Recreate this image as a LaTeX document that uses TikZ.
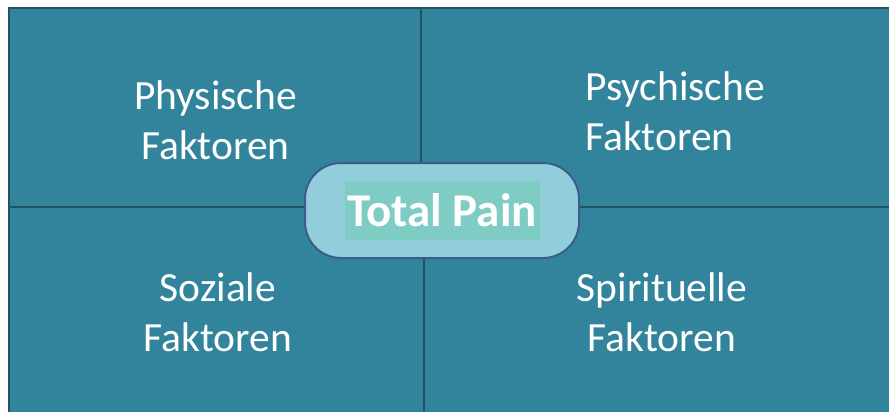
\documentclass[tikz,border=0pt]{standalone}
\usepackage{fontspec}
\setmainfont{Carlito}
\definecolor{quadfill}{RGB}{49,132,155}
\definecolor{quadline}{RGB}{33,84,99}
\definecolor{pillfill}{RGB}{146,205,220}
\definecolor{pillline}{RGB}{60,92,138}
\definecolor{hilite}{RGB}{127,204,196}

\tikzset{
  quad/.style={fill=quadfill, draw=quadline, line width=2.8pt},
  lbl/.style={text=white, font=\fontsize{41.5}{50}\selectfont, inner sep=0pt},
  pill/.style={fill=pillfill, draw=pillline, line width=2pt, rounded corners=36pt,
    minimum width=274pt, minimum height=95pt},
  painbox/.style={fill=hilite, text=white, font=\bfseries\fontsize{47}{50}\selectfont,
    inner sep=0pt, minimum width=195pt, minimum height=59pt}
}

\begin{document}
\begin{tikzpicture}[x=1pt, y=-1pt]
      \useasboundingbox (0, 0) rectangle (889, 412);
      \fill[white] (0, 0) rectangle (889, 412);
      \clip (0, 0) rectangle (889, 412);

      % four fields
      \draw[quad] (9, 8) rectangle (421, 207);
      \draw[quad] (421, 8) rectangle (895, 207);
      \draw[quad] (9, 207) rectangle (424, 418);
      \draw[quad] (424, 207) rectangle (895, 418);

      % base anchor sits on the last line
      \node[lbl, align=center, anchor=base] (phys) at (215.5, 159) {Physische\\Faktoren};
      \node[lbl, align=left, anchor=base west] (psych) at (585, 150) {Psychische\\Faktoren};
      \node[lbl, align=center, anchor=base] (sozial) at (218, 351) {Soziale\\Faktoren};
      \node[lbl, align=center, anchor=base] (spirit) at (662, 351) {Spirituelle\\Faktoren};

      % middle
      \node[pill] (total) at (442, 210.5) {};
      \node[painbox] (pain) at (total.center) {Total Pain};
    \end{tikzpicture}
\end{document}
